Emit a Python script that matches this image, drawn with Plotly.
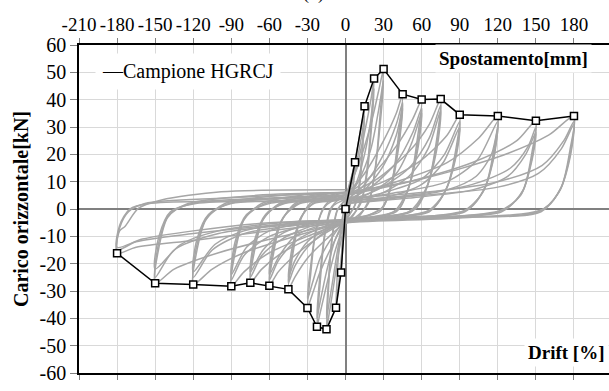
import plotly.graph_objects as go

# ---------------- axis ticks ----------------
mm_ticks = [-210, -180, -150, -120, -90, -60, -30, 0, 30, 60, 90, 120, 150, 180]
mm_labels = ["-210", "-180", "-150", "-120", "-90", "-60", "-30", "0", "30", "60", "90", "120", "150", "180"]
drift_labels = ["-7", "-6", "-5", "-4", "-3", "-2", "-1", "0", "1", "2", "3", "4", "5", "6"]
kn_ticks = [-60, -50, -40, -30, -20, -10, 0, 10, 20, 30, 40, 50, 60]
kn_labels = ["-60", "-50", "-40", "-30", "-20", "-10", "0", "10", "20", "30", "40", "50", "60"]

# ---------------- envelope (Campione HGRCJ) ----------------
env_x = [-180, -150, -120, -90, -75, -60, -45, -30, -22.5, -15, -7.5, -3.5, 0,
         7.5, 15, 22.5, 30, 45, 60, 75, 90, 120, 150, 180]
env_y = [-16.2, -27.2, -27.6, -28.3, -27.0, -28.1, -29.4, -36.2, -43.1, -44.0, -36.1, -23.2, 0,
         17.1, 37.6, 47.7, 51.2, 42.0, 40.1, 40.2, 34.5, 34.0, 32.3, 34.0]

# ---------------- hysteresis cycles ----------------
c4_x = [0, 3.75, 2, 0, -2, -3.5, -2, 0]
c4_y = [1, 9, 3, -3, -13, -23, -8, 1]

c8_x = [0, 3, 6, 7.5, 6.5, 4, 0, -3, -6, -7.5, -6.5, -4, 0]
c8_y = [3, 9, 14, 17, 10, 2, -4, -16, -30, -36, -24, -8, 3]

c15a_x = [0, 5, 10, 13.5, 15, 13.5, 11, 8, 0, -5, -10, -13.5, -15, -13.5, -11, -7, 0]
c15a_y = [4, 12, 24, 33, 37.5, 25, 10, 2, -5, -15, -30, -40, -44, -30, -12, -1, 4]
c15b_x = [0, 5, 10, 13.5, 15, 13.5, 11, 7, 0, -5, -10, -13.5, -15, -13.5, -10, -6, 0]
c15b_y = [2, 9, 20, 29, 34, 22, 8, 1, -4, -12, -26, -36, -40, -27, -9, 0, 3]

c22a_x = [0, 8, 15, 20, 22.5, 20.5, 17, 13, 5, 0, -8, -15, -20, -22.5, -20.5, -17, -12, -4, 0]
c22a_y = [4, 14, 28, 40, 47.7, 33, 15, 4, -3, -5, -15, -28, -38, -43, -30, -12, 0, 4, 5]
c22b_x = [0, 8, 15, 20, 22.5, 20.5, 17, 12, 4, 0, -8, -15, -20, -22.5, -20.5, -16, -10, -3, 0]
c22b_y = [3, 9, 20, 33, 44, 30, 13, 2, -3, -4, -11, -23, -34, -40, -26, -8, 1, 3, 4]

c30a_x = [0, 10, 20, 26, 30, 27.5, 24, 19, 10, 0, -10, -20, -26, -30, -27.5, -24, -18, -8, 0]
c30a_y = [5, 16, 31, 43, 51.2, 36, 17, 4, -3, -5, -13, -23, -31, -36.2, -24, -10, 0, 5, 6]
c30b_x = [0, 10, 20, 26, 30, 27.5, 23, 18, 8, 0, -10, -20, -26, -30, -27.5, -23, -16, -6, 0]
c30b_y = [3, 10, 22, 36, 47, 32, 13, 2, -3, -4, -10, -18, -27, -33, -21, -7, 1, 4, 5]

c45a_x = [0, 15, 30, 40, 45, 42, 37, 30, 15, 0, -15, -30, -40, -45, -42, -37, -28, -12, 0]
c45a_y = [5, 13, 25, 35, 42, 28, 11, 1, -3, -5, -11, -18, -25, -29.4, -18, -6, 2, 5, 6]
c45b_x = [0, 15, 30, 40, 45, 42, 36, 28, 12, 0, -15, -30, -40, -45, -42, -36, -26, -10, 0]
c45b_y = [3, 9, 20, 31, 39, 25, 9, 0, -3, -4, -8, -14, -21, -27, -16, -4, 2, 4, 5]
c45c_x = [0, 15, 30, 40, 45, 42, 36, 27, 10, 0, -15, -30, -40, -45, -42, -35, -25, -8, 0]
c45c_y = [2, 7, 16, 27, 37, 23, 8, -1, -3, -4, -7, -12, -19, -25, -14, -3, 2, 3, 4]

c60a_x = [0, 20, 40, 53, 60, 57, 51, 42, 25, 0, -20, -40, -53, -60, -57, -51, -40, -20, 0]
c60a_y = [5, 12, 23, 33, 40, 27, 10, 0, -3, -5, -10, -17, -23, -28, -17, -5, 2, 5, 6]
c60b_x = [0, 20, 40, 53, 60, 57, 50, 40, 20, 0, -20, -40, -53, -60, -57, -50, -38, -15, 0]
c60b_y = [3, 8, 17, 28, 37, 24, 8, -1, -3, -4, -7, -12, -19, -26, -15, -4, 2, 4, 5]
c60c_x = [0, 20, 40, 52, 60, 57, 49, 38, 18, 0, -20, -40, -52, -60, -57, -49, -36, -12, 0]
c60c_y = [2, 6, 13, 24, 35, 22, 7, -1, -3, -4, -6, -10, -17, -24, -13, -3, 2, 3, 4]

c75a_x = [0, 25, 50, 66, 75, 72, 65, 55, 30, 0, -25, -50, -66, -75, -72, -65, -52, -25, 0]
c75a_y = [5, 11, 21, 31, 40.3, 26, 9, 0, -3, -5, -10, -16, -22, -27, -16, -4, 2, 5, 6]
c75b_x = [0, 25, 50, 66, 75, 72, 64, 52, 25, 0, -25, -50, -66, -75, -72, -64, -50, -20, 0]
c75b_y = [3, 7, 15, 26, 38, 24, 8, -1, -3, -4, -6, -11, -17, -25, -14, -3, 2, 4, 5]
c75c_x = [0, 25, 50, 65, 75, 72, 63, 50, 20, 0, -25, -50, -65, -75, -72, -63, -48, -18, 0]
c75c_y = [2, 5, 12, 22, 36, 22, 7, -1, -3, -4, -5, -9, -15, -23, -12, -2, 2, 3, 4]

c90a_x = [0, 30, 60, 80, 90, 87, 80, 68, 40, 0, -30, -60, -80, -90, -87, -80, -66, -35, 0]
c90a_y = [5, 10, 18, 27, 34.5, 22, 8, 0, -3, -5, -10, -16, -23, -28.3, -16, -4, 2, 5, 6]
c90b_x = [0, 30, 60, 78, 90, 87, 79, 66, 35, 0, -30, -60, -80, -90, -87, -79, -63, -30, 0]
c90b_y = [3, 6, 11, 20, 32, 20, 7, -1, -3, -4, -6, -10, -17, -26, -14, -3, 2, 4, 5]
c90c_x = [0, 30, 60, 77, 90, 87, 78, 64, 30, 0, -30, -60, -78, -90, -87, -78, -60, -25, 0]
c90c_y = [2, 4, 9, 17, 30, 19, 6, -1, -3, -4, -5, -8, -14, -24, -12, -2, 2, 3, 4]

c120a_x = [0, 40, 80, 105, 120, 117, 110, 97, 60, 0, -40, -80, -105, -120, -117, -110, -95, -50, 0]
c120a_y = [5, 10, 17, 26, 34, 22, 8, 0, -3, -5, -10, -16, -22, -27.6, -15, -4, 2, 5, 6]
c120b_x = [0, 40, 80, 104, 120, 117, 109, 94, 50, 0, -40, -80, -105, -120, -117, -109, -92, -45, 0]
c120b_y = [3, 6, 10, 18, 32, 20, 7, -1, -3, -4, -6, -9, -15, -25, -13, -3, 2, 4, 5]
c120c_x = [0, 40, 80, 103, 115, 120, 117, 108, 92, 45, 0, -40, -80, -103, -120, -117, -108, -90, -40, 0]
c120c_y = [2, 4, 7, 12, 20, 30, 19, 6, -1, -3, -4, -5, -8, -13, -23, -11, -2, 2, 3, 4]

c150a_x = [0, 50, 100, 135, 150, 147, 140, 126, 80, 0, -50, -100, -135, -150, -147, -140, -124, -70, 0]
c150a_y = [5, 10, 17, 25, 32.3, 21, 7, 0, -3, -5, -10, -16, -22, -27.2, -14, -3, 2, 5, 6]
c150b_x = [0, 50, 100, 130, 144, 150, 147, 139, 123, 70, 0, -50, -100, -135, -150, -147, -139, -121, -60, 0]
c150b_y = [3, 5, 9, 15, 23, 30, 19, 6, -1, -3, -4, -6, -9, -15, -25, -12, -2, 2, 4, 5]
c150c_x = [0, 50, 100, 128, 142, 150, 147, 138, 120, 60, 0, -50, -100, -130, -150, -147, -138, -118, -50, 0]
c150c_y = [2, 4, 7, 12, 20, 28, 18, 5, -1, -3, -4, -5, -8, -13, -22, -10, -1, 2, 3, 4]

c180a_x = [0, 60, 120, 160, 180, 177, 170, 156, 100, 0, -60, -120, -165, -180, -178, -174, -163, -145, -98, 0]
c180a_y = [6, 11, 19, 27, 34, 22, 8, 0, -3, -5, -8, -11.5, -14, -16.2, -8, -6.5, 0.3, 3.3, 6.3, 7]
c180b_x = [0, 60, 120, 155, 172, 180, 177, 169, 154, 90, 0, -60, -120, -165, -180, -178, -171, -158, -95, 0]
c180b_y = [4, 6, 10, 16, 25, 32, 20, 7, -1, -3, -4, -6, -9, -12, -15, -7, -1, 2, 4, 6]
c180c_x = [0, 60, 120, 152, 170, 180, 177, 168, 152, 80, 0, -60, -120, -160, -180, -178, -170, -155, -90, 0]
c180c_y = [3, 5, 8, 13, 22, 31, 19, 6, -1, -3, -4, -5, -8, -11, -14, -6, 0, 2, 3, 5]

cycles = [
    (c4_x, c4_y), (c8_x, c8_y),
    (c15a_x, c15a_y), (c15b_x, c15b_y),
    (c22a_x, c22a_y), (c22b_x, c22b_y),
    (c30a_x, c30a_y), (c30b_x, c30b_y),
    (c45a_x, c45a_y), (c45b_x, c45b_y), (c45c_x, c45c_y),
    (c60a_x, c60a_y), (c60b_x, c60b_y), (c60c_x, c60c_y),
    (c75a_x, c75a_y), (c75b_x, c75b_y), (c75c_x, c75c_y),
    (c90a_x, c90a_y), (c90b_x, c90b_y), (c90c_x, c90c_y),
    (c120a_x, c120a_y), (c120b_x, c120b_y), (c120c_x, c120c_y),
    (c150a_x, c150a_y), (c150b_x, c150b_y), (c150c_x, c150c_y),
    (c180a_x, c180a_y), (c180b_x, c180b_y), (c180c_x, c180c_y),
]

GRAY = "#a6a6a6"
FONT = "Times New Roman, Liberation Serif, Tinos, DejaVu Serif, serif"

fig = go.Figure()
for cx, cy in cycles:
    fig.add_trace(go.Scatter(x=cx, y=cy, mode="lines",
                             line=dict(color=GRAY, width=1.5, shape="spline", smoothing=0.8),
                             hoverinfo="skip", showlegend=False))

fig.add_trace(go.Scatter(x=env_x, y=env_y, mode="lines+markers", name="Campione HGRCJ",
                         line=dict(color="black", width=1.5),
                         marker=dict(symbol="square", size=7, color="white",
                                     line=dict(color="black", width=1.5)),
                         showlegend=False))
# invisible trace that activates the top (displacement) axis
fig.add_trace(go.Scatter(x=env_x, y=env_y, xaxis="x2", mode="markers",
                         marker=dict(opacity=0), hoverinfo="skip", showlegend=False))

xrange = [-210, 207.6]
fig.update_layout(
    width=609, height=391,
    margin=dict(l=79, r=0, t=45, b=18, autoexpand=False),
    plot_bgcolor="white", paper_bgcolor="white",
    font=dict(family=FONT, size=18, color="black"),
    showlegend=False,
    xaxis=dict(range=xrange, tickvals=mm_ticks, ticktext=drift_labels, automargin=False,
               showgrid=True, gridcolor="#d9d9d9", gridwidth=1,
               zeroline=True, zerolinecolor="#808080", zerolinewidth=1.5,
               showline=True, linecolor="black", linewidth=1.5,
               ticks="outside", ticklen=5, tickcolor="#808080", ticklabelstandoff=3,
               tickfont=dict(family=FONT, size=19)),
    xaxis2=dict(range=xrange, overlaying="x", side="top", anchor="y", automargin=False,
                tickvals=mm_ticks, ticktext=mm_labels,
                showgrid=False, zeroline=False,
                showline=True, linecolor="black", linewidth=1.5,
                ticks="outside", ticklen=5, tickcolor="#808080",
                tickfont=dict(family=FONT, size=19)),
    yaxis=dict(range=[-60, 60], tickvals=kn_ticks, ticktext=kn_labels, automargin=False,
               showgrid=True, gridcolor="#d9d9d9", gridwidth=1,
               zeroline=True, zerolinecolor="#808080", zerolinewidth=1.5,
               showline=True, linecolor="black", linewidth=1.5,
               ticks="outside", ticklen=7, tickcolor="#808080",
               tickfont=dict(family=FONT, size=20),
               title=dict(text="<b>Carico orizzontale[kN]</b>",
                          font=dict(family=FONT, size=20), standoff=6)),
    annotations=[
        dict(text="—Campione HGRCJ", xref="paper", yref="paper",
             x=(95 - 79) / 530, y=(373 - 72) / 328, xanchor="left", yanchor="middle",
             showarrow=False, bgcolor="white", borderpad=6,
             font=dict(family=FONT, size=20, color="black")),
        dict(text="<b>Spostamento[mm]</b>", xref="paper", yref="paper",
             x=(592 - 79) / 530, y=(373 - 58) / 328, xanchor="right", yanchor="middle",
             showarrow=False, bgcolor="white", borderpad=3,
             font=dict(family=FONT, size=19, color="black")),
        dict(text="<b>Drift [%]</b>", xref="paper", yref="paper",
             x=1.0, y=(373 - 352) / 328, xanchor="right", yanchor="middle",
             showarrow=False, bgcolor="white", borderpad=3,
             font=dict(family=FONT, size=19, color="black")),
        dict(text="(b)", xref="paper", yref="paper",
             x=(313 - 79) / 530, y=(373 + 6) / 328, xanchor="center", yanchor="middle",
             showarrow=False, font=dict(family=FONT, size=18, color="black")),
    ],
)

fig.write_html("out.html")
